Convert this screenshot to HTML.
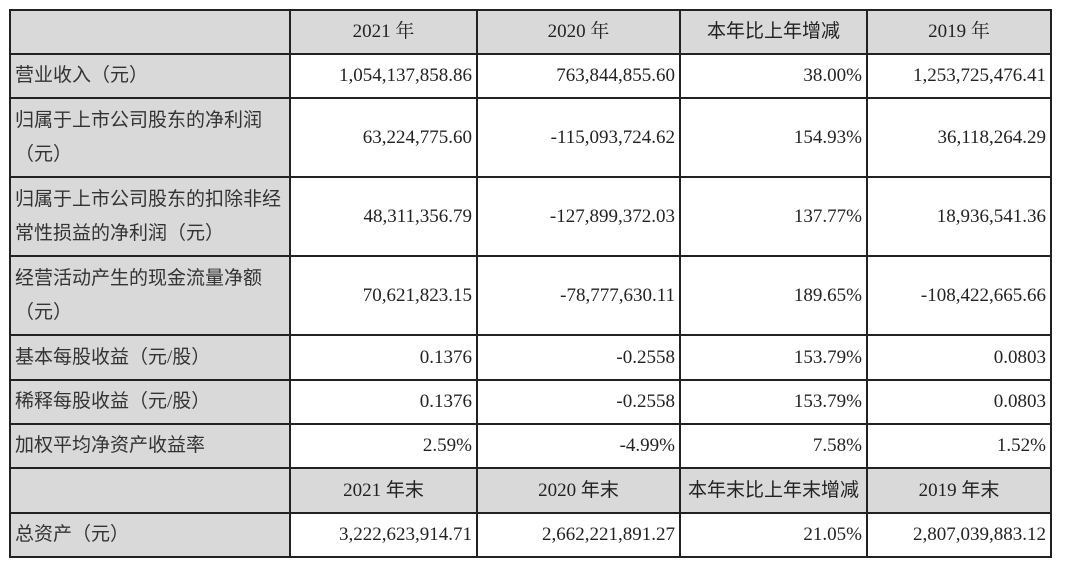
<!DOCTYPE html>
<html><head><meta charset="utf-8"><style>
html,body{margin:0;padding:0;background:#fff;width:1080px;height:573px;overflow:hidden}
table{position:absolute;left:9px;top:9px;border-collapse:collapse;table-layout:fixed;font-family:"Liberation Serif","Noto Serif CJK SC",serif;font-size:19px;color:#222}
td{border:2px solid #222;padding:0 4px;white-space:nowrap;line-height:34px}
td.l{background:#d9d9d9;text-align:left;padding-left:4px;font-family:"Liberation Serif","Noto Sans CJK SC",sans-serif;color:#333}
td.n{text-align:right}
tr.h td{background:#d9d9d9;text-align:center}
tr.h td.c{font-family:"Liberation Serif","Noto Sans CJK SC",sans-serif}
</style></head><body>
<table>
<colgroup><col style="width:280px"><col style="width:187px"><col style="width:203px"><col style="width:187px"><col style="width:184px"></colgroup>
<tr class="h" style="height:44px"><td></td><td>2021 年</td><td>2020 年</td><td class="c">本年比上年增减</td><td>2019 年</td></tr>
<tr style="height:44px"><td class="l">营业收入（元）</td><td class="n">1,054,137,858.86</td><td class="n">763,844,855.60</td><td class="n">38.00%</td><td class="n">1,253,725,476.41</td></tr>
<tr style="height:79px"><td class="l">归属于上市公司股东的净利润<br>（元）</td><td class="n">63,224,775.60</td><td class="n">-115,093,724.62</td><td class="n">154.93%</td><td class="n">36,118,264.29</td></tr>
<tr style="height:79px"><td class="l">归属于上市公司股东的扣除非经<br>常性损益的净利润（元）</td><td class="n">48,311,356.79</td><td class="n">-127,899,372.03</td><td class="n">137.77%</td><td class="n">18,936,541.36</td></tr>
<tr style="height:79px"><td class="l">经营活动产生的现金流量净额<br>（元）</td><td class="n">70,621,823.15</td><td class="n">-78,777,630.11</td><td class="n">189.65%</td><td class="n">-108,422,665.66</td></tr>
<tr style="height:45px"><td class="l">基本每股收益（元/股）</td><td class="n">0.1376</td><td class="n">-0.2558</td><td class="n">153.79%</td><td class="n">0.0803</td></tr>
<tr style="height:44px"><td class="l">稀释每股收益（元/股）</td><td class="n">0.1376</td><td class="n">-0.2558</td><td class="n">153.79%</td><td class="n">0.0803</td></tr>
<tr style="height:44px"><td class="l">加权平均净资产收益率</td><td class="n">2.59%</td><td class="n">-4.99%</td><td class="n">7.58%</td><td class="n">1.52%</td></tr>
<tr class="h" style="height:45px"><td></td><td class="c">2021 年末</td><td class="c">2020 年末</td><td class="c">本年末比上年末增减</td><td class="c">2019 年末</td></tr>
<tr style="height:44px"><td class="l">总资产（元）</td><td class="n">3,222,623,914.71</td><td class="n">2,662,221,891.27</td><td class="n">21.05%</td><td class="n">2,807,039,883.12</td></tr>
</table>
</body></html>
